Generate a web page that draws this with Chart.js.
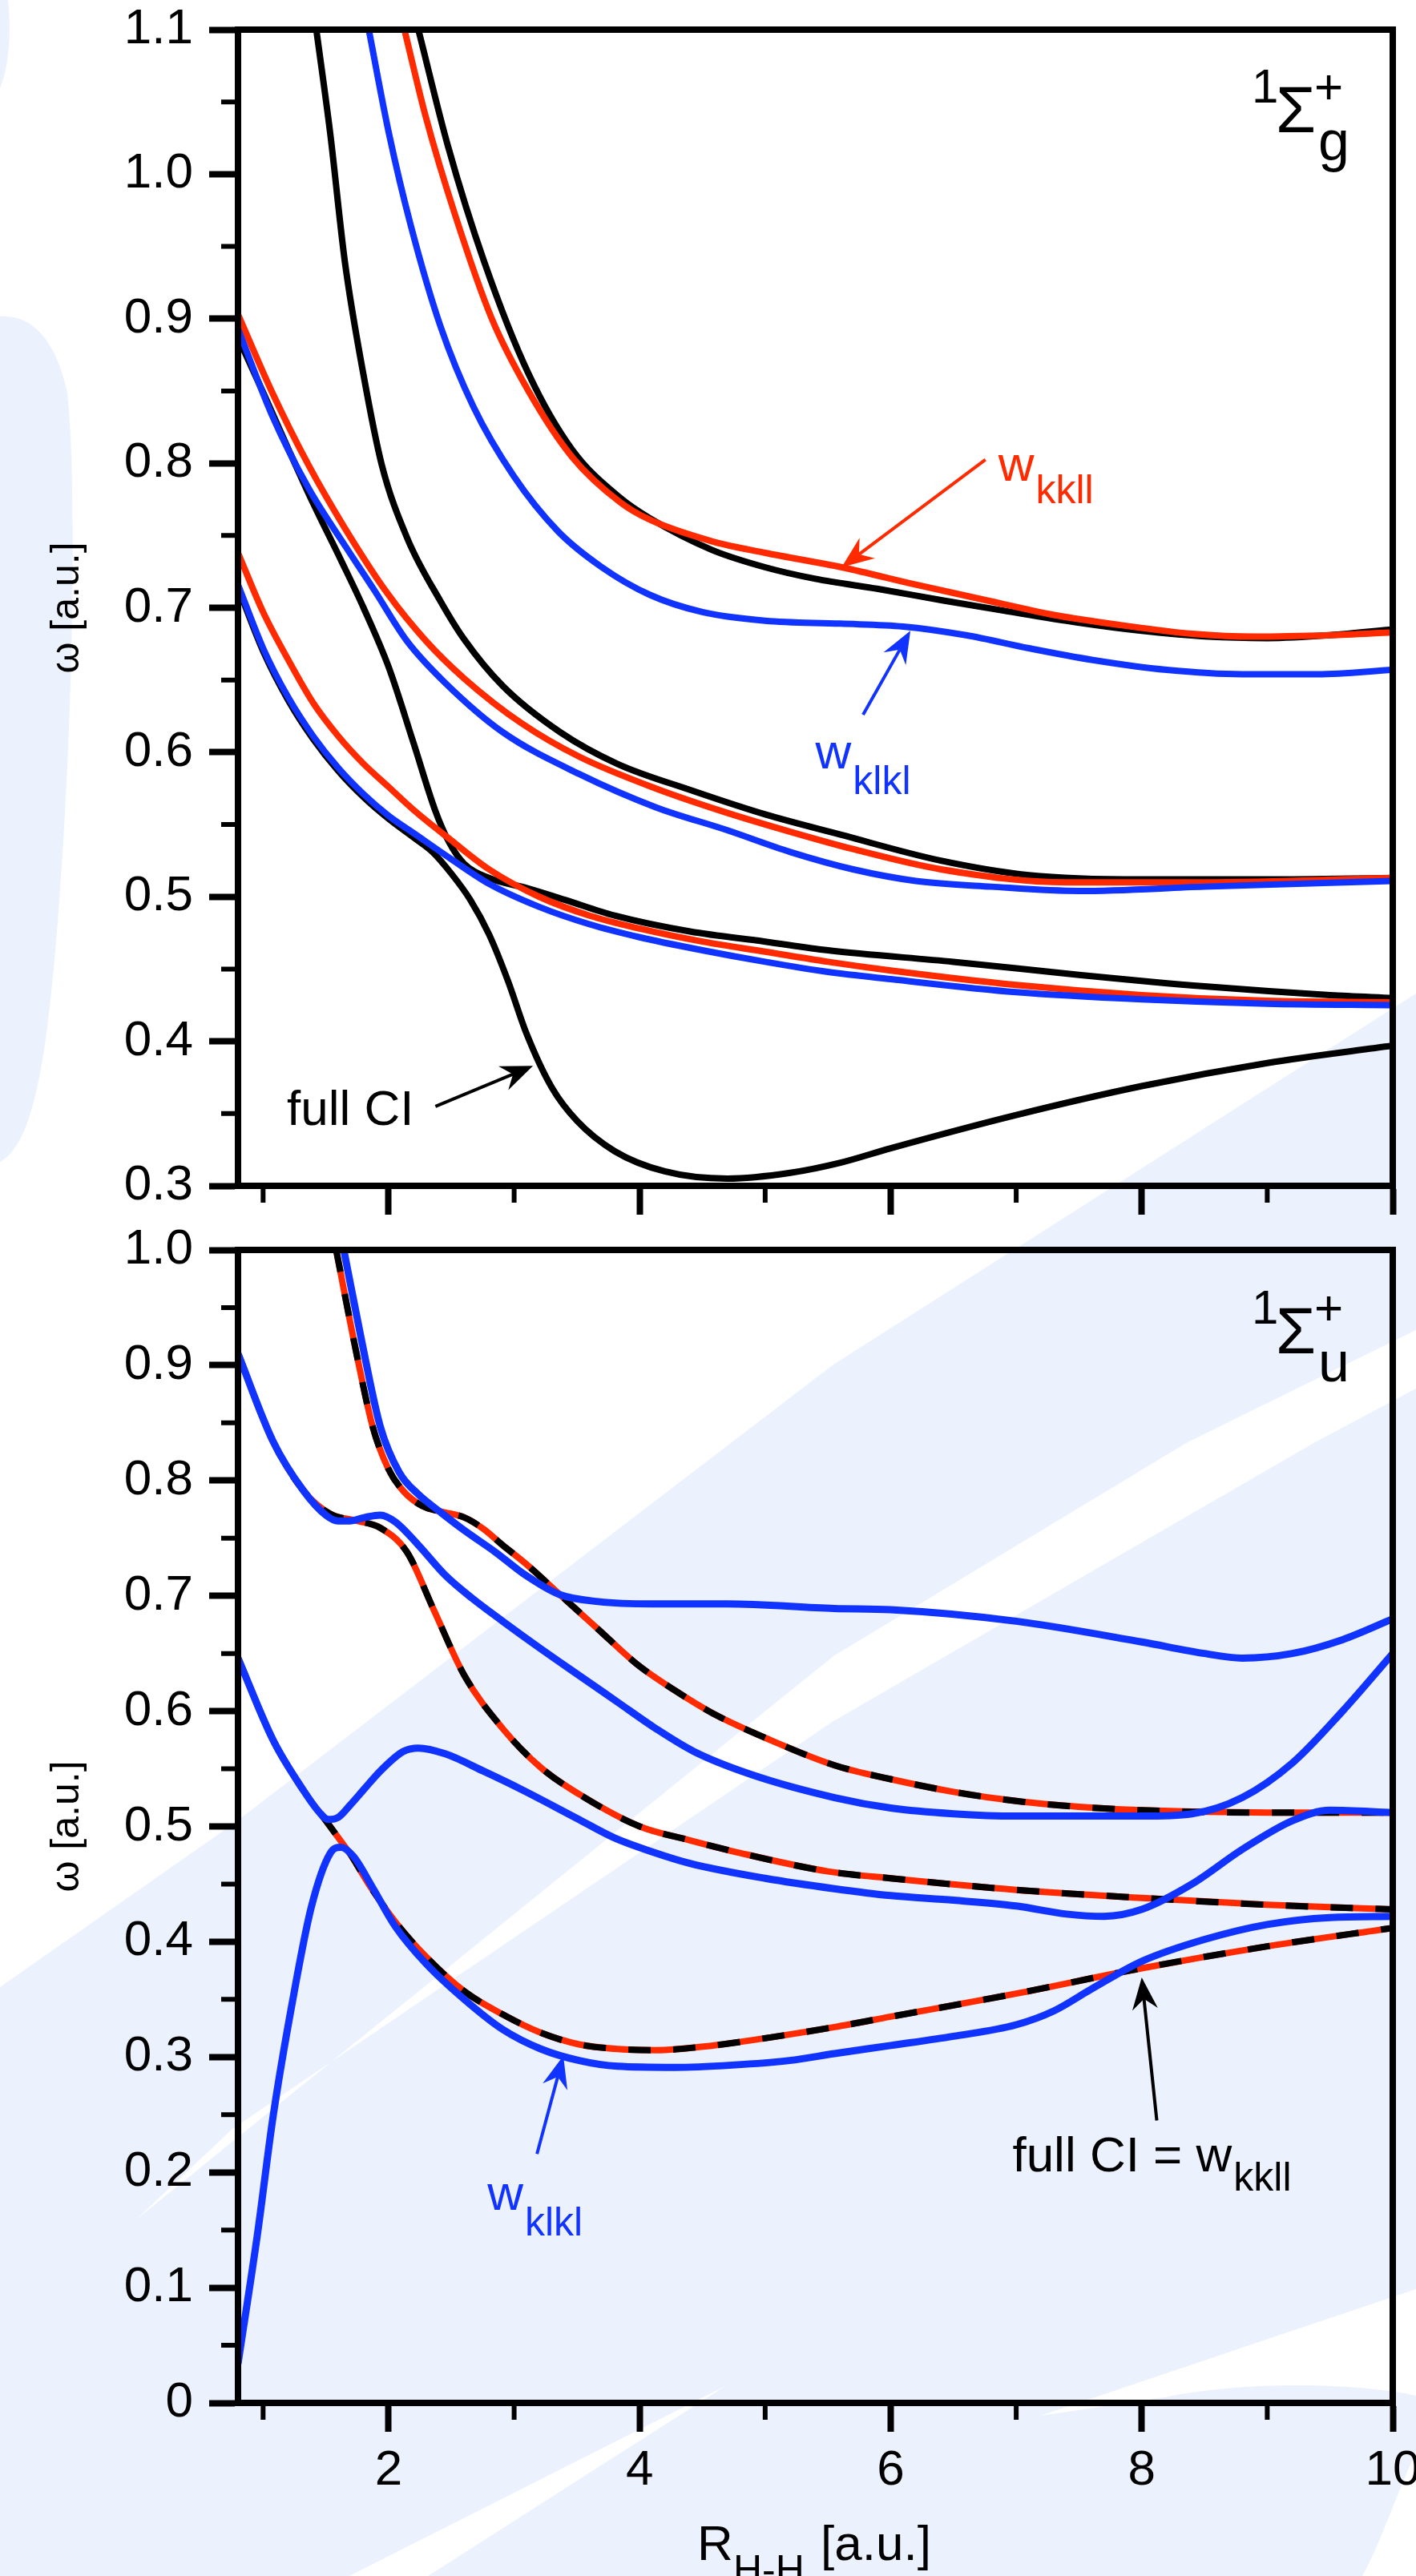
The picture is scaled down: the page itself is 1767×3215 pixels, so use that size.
<!DOCTYPE html>
<html><head><meta charset="utf-8">
<script src="https://cdn.jsdelivr.net/npm/chart.js@4.4.1/dist/chart.umd.min.js"></script>
<style>
html,body{margin:0;padding:0;background:#fff;}
#page{position:relative;width:1767px;height:3215px;overflow:hidden;background:#fff;}
#bg{position:absolute;left:0;top:0;}
#c1{position:absolute;left:0;top:0;}
#c2{position:absolute;left:0;top:1520px;}
</style></head><body>
<div id="page">
<svg id="bg" width="1767" height="3215" xmlns="http://www.w3.org/2000/svg">
  <g fill="#ecf2fd">
    <path d="M0,0 L10,0 C14,40 12,80 0,110 Z"/>
    <path d="M0,395 C40,392 70,425 84,490 C96,600 92,900 72,1150 C58,1330 40,1430 0,1450 Z"/>
    <path d="M0,2480 L290,2277 L1040,1703 L1359,1500 L1767,1240 L1767,3215 L0,3215 Z"/>
  </g>
  <g fill="#ffffff">
    <path d="M170,2770 L1040,2067 L1482,1800 L1767,1660 L1767,1733 L1641,1800 L1040,2148 L290,2657 Z"/>
    <path d="M436,3215 L534,3215 L905,2978 Z"/>
    <path d="M1298,3015 L1767,2857 L1767,2990 C1700,2975 1560,2970 1453,2992 Z"/>
    <path d="M1767,3060 C1740,3120 1720,3180 1700,3215 L1767,3215 Z"/>
  </g>
</svg>
<canvas id="c1" width="1767" height="1520"></canvas>
<canvas id="c2" width="1767" height="1695"></canvas>
</div>
<script>
// ---------------- data (R_H-H [a.u.], omega [a.u.]) ----------------
// top panel: 1Sigma_g+
const topFullCI_1 = [[0.8,0.714],[1.0,0.670],[1.2,0.636],[1.4,0.609],[1.6,0.587],[1.8,0.569],[2.0,0.554],[2.2,0.541],[2.35,0.531],[2.5,0.516],[2.65,0.498],[2.8,0.474],[2.95,0.442],[3.1,0.405],[3.3,0.368],[3.5,0.345],[3.8,0.324],[4.2,0.310],[4.7,0.305],[5.2,0.309],[5.6,0.316],[6.0,0.326],[7.0,0.349],[8.0,0.369],[9.0,0.385],[10,0.397]];
const topFullCI_2 = [[0.8,0.887],[1.0,0.849],[1.2,0.810],[1.4,0.772],[1.62,0.733],[1.8,0.700],[2.0,0.659],[2.2,0.606],[2.37,0.560],[2.48,0.538],[2.6,0.523],[2.8,0.513],[3.1,0.506],[3.4,0.498],[3.8,0.487],[4.4,0.476],[5.0,0.469],[5.5,0.463],[6.5,0.455],[7.5,0.446],[8.5,0.438],[9.5,0.432],[10,0.430]];
const topFullCI_3 = [[1.424,1.1],[1.535,1.028],[1.652,0.939],[1.798,0.862],[1.945,0.799],[2.149,0.748],[2.41,0.705],[2.603,0.678],[2.908,0.646],[3.365,0.614],[3.822,0.592],[4.4,0.574],[5.0,0.557],[5.6,0.543],[6.4,0.525],[7.1,0.515],[8.0,0.512],[9.0,0.512],[10,0.513]];
const topFullCI_4 = [[2.237,1.1],[2.471,1.020],[2.763,0.939],[3.114,0.862],[3.465,0.809],[3.845,0.776],[4.079,0.762],[4.576,0.740],[5.0,0.728],[5.4,0.720],[5.9,0.713],[6.42,0.705],[6.9,0.698],[7.47,0.690],[8.0,0.684],[8.53,0.680],[9.0,0.679],[9.5,0.681],[10,0.685]];
const topKkll_1 = [[0.8,0.738],[1.0,0.697],[1.2,0.664],[1.4,0.634],[1.6,0.611],[1.8,0.592],[2.0,0.576],[2.2,0.560],[2.5,0.539],[2.8,0.519],[3.2,0.500],[3.6,0.487],[4.0,0.478],[4.5,0.469],[5.0,0.462],[5.5,0.455],[6.0,0.449],[7.0,0.439],[8.0,0.432],[9.0,0.428],[10,0.427]];
const topKkll_2 = [[0.8,0.903],[1.067,0.850],[1.36,0.799],[1.652,0.755],[1.99,0.710],[2.298,0.677],[2.603,0.651],[3.06,0.620],[3.517,0.597],[4.127,0.575],[4.7,0.558],[5.2,0.545],[5.7,0.533],[6.4,0.519],[7.4,0.510],[8.5,0.510],[10,0.513]];
const topKkll_3 = [[2.126,1.1],[2.295,1.040],[2.529,0.972],[2.822,0.900],[3.114,0.850],[3.465,0.804],[3.845,0.773],[4.079,0.761],[4.576,0.746],[5.0,0.738],[5.61,0.728],[6.2,0.716],[6.77,0.705],[7.3,0.695],[7.83,0.688],[8.4,0.682],[8.9,0.680],[9.5,0.681],[10,0.683]];
const topKlkl_1 = [[0.8,0.716],[1.0,0.672],[1.2,0.638],[1.4,0.611],[1.6,0.589],[1.8,0.571],[2.0,0.556],[2.2,0.544],[2.5,0.526],[2.8,0.509],[3.2,0.493],[3.6,0.481],[4.0,0.472],[4.5,0.463],[5.0,0.455],[5.5,0.448],[6.0,0.443],[7.0,0.434],[8.0,0.429],[9.0,0.426],[10,0.425]];
const topKlkl_2 = [[0.8,0.893],[1.067,0.834],[1.36,0.783],[1.652,0.743],[1.887,0.712],[2.146,0.677],[2.451,0.648],[2.908,0.614],[3.517,0.585],[4.127,0.562],[4.7,0.546],[5.2,0.531],[5.7,0.519],[6.2,0.511],[6.8,0.507],[7.5,0.504],[8.5,0.507],[10,0.511]];
const topKlkl_3 = [[1.842,1.1],[2.003,1.028],[2.178,0.964],[2.412,0.895],[2.676,0.839],[2.997,0.791],[3.348,0.753],[3.699,0.728],[4.079,0.709],[4.5,0.697],[5.0,0.691],[5.6,0.689],[6.1,0.687],[6.6,0.681],[7.1,0.672],[7.6,0.664],[8.2,0.657],[8.8,0.654],[9.4,0.654],[10,0.657]];
// bottom panel: 1Sigma_u+  (full CI = w_kkll, drawn red/black dashed)
const botFullCI_1 = [[0.8,0.646],[1.079,0.575],[1.323,0.531],[1.506,0.504],[1.628,0.486],[1.689,0.477],[1.841,0.450],[2.055,0.417],[2.298,0.387],[2.603,0.357],[2.908,0.337],[3.213,0.321],[3.517,0.311],[3.822,0.307],[4.127,0.306],[4.584,0.310],[5.04,0.317],[5.553,0.326],[6.0,0.335],[7.0,0.355],[8.0,0.377],[9.0,0.396],[10,0.412]];
const botFullCI_2 = [[0.8,0.910],[1.079,0.834],[1.323,0.791],[1.536,0.771],[1.75,0.765],[1.933,0.759],[2.146,0.738],[2.359,0.688],[2.603,0.631],[2.908,0.585],[3.213,0.551],[3.517,0.528],[4.0,0.500],[4.4,0.488],[4.8,0.477],[5.5,0.461],[6.0,0.455],[7.0,0.445],[8.0,0.438],[9.0,0.432],[10,0.428]];
const botFullCI_3 = [[1.582,1.0],[1.75,0.907],[1.872,0.847],[1.994,0.811],[2.116,0.791],[2.268,0.778],[2.42,0.773],[2.603,0.768],[2.756,0.758],[2.908,0.744],[3.091,0.728],[3.365,0.701],[3.67,0.671],[3.975,0.641],[4.28,0.618],[4.584,0.598],[5.04,0.575],[5.553,0.553],[6.0,0.541],[6.5,0.530],[7.0,0.522],[7.5,0.517],[8.0,0.514],[9.0,0.512],[10,0.512]];
const botKlkl_1 = [[0.8,0.034],[0.957,0.148],[1.079,0.248],[1.232,0.347],[1.384,0.430],[1.536,0.477],[1.62,0.482],[1.72,0.474],[1.872,0.447],[2.055,0.413],[2.298,0.381],[2.603,0.350],[2.908,0.324],[3.213,0.307],[3.517,0.297],[3.822,0.292],[4.28,0.291],[4.737,0.293],[5.194,0.297],[5.553,0.303],[6.0,0.310],[6.5,0.318],[7.0,0.328],[7.3,0.340],[7.6,0.359],[8.0,0.383],[8.5,0.402],[9.0,0.415],[9.5,0.421],[10,0.422]];
const botKlkl_2 = [[0.8,0.646],[1.079,0.575],[1.323,0.531],[1.45,0.512],[1.52,0.506],[1.6,0.508],[1.689,0.518],[1.81,0.533],[1.933,0.548],[2.116,0.565],[2.237,0.568],[2.45,0.563],[2.755,0.548],[3.06,0.532],[3.5,0.507],[3.8,0.490],[4.1,0.478],[4.4,0.468],[5.0,0.455],[5.55,0.446],[6.0,0.440],[6.5,0.436],[7.0,0.431],[7.4,0.424],[7.7,0.422],[8.0,0.428],[8.4,0.450],[8.8,0.480],[9.2,0.505],[9.5,0.514],[10,0.512]];
const botKlkl_3 = [[0.8,0.910],[1.079,0.834],[1.323,0.791],[1.5,0.770],[1.597,0.765],[1.689,0.765],[1.81,0.768],[1.933,0.770],[2.055,0.764],[2.237,0.744],[2.45,0.718],[2.664,0.698],[2.908,0.678],[3.213,0.654],[3.517,0.631],[3.822,0.608],[4.127,0.585],[4.432,0.565],[4.89,0.545],[5.553,0.525],[6.0,0.516],[6.5,0.511],[7.0,0.509],[7.5,0.509],[8.0,0.509],[8.4,0.511],[8.8,0.525],[9.2,0.555],[9.6,0.600],[10,0.650]];
const botKlkl_4 = [[1.643,1.0],[1.78,0.924],[1.933,0.847],[2.085,0.807],[2.237,0.788],[2.42,0.772],[2.6,0.757],[2.85,0.738],[3.09,0.718],[3.365,0.701],[3.67,0.695],[4.1,0.693],[4.7,0.693],[5.55,0.689],[6.0,0.688],[7.0,0.678],[8.0,0.660],[8.5,0.650],[8.8,0.646],[9.2,0.650],[9.6,0.662],[10,0.680]];

// ticks
const xTicks = [2,4,6,8,10];
const xTickLabels = ['2','4','6','8','10'];
const xMinorTicks = [1,3,5,7,9];
const topYTicks = [0.3,0.4,0.5,0.6,0.7,0.8,0.9,1.0,1.1];
const topYTickLabels = ['0.3','0.4','0.5','0.6','0.7','0.8','0.9','1.0','1.1'];
const topYMinor = [0.35,0.45,0.55,0.65,0.75,0.85,0.95,1.05];
const botYTicks = [0,0.1,0.2,0.3,0.4,0.5,0.6,0.7,0.8,0.9,1.0];
const botYTickLabels = ['0','0.1','0.2','0.3','0.4','0.5','0.6','0.7','0.8','0.9','1.0'];
const botYMinor = [0.05,0.15,0.25,0.35,0.45,0.55,0.65,0.75,0.85,0.95];

// ---------------- style ----------------
const FONT = '"Liberation Sans", Arial, Helvetica, sans-serif';
const RED = '#ff2a00', BLUE = '#1133ff', BLACK = '#000000';
const W = 1767;

function pts(a){ return a.map(p => ({x:p[0], y:p[1]})); }
function ds(a, color, width, dash){
  return { data: pts(a), borderColor: color, borderWidth: width, borderDash: dash || [],
    pointRadius: 0, fill: false, cubicInterpolationMode: 'monotone', borderCapStyle: 'butt', borderJoinStyle: 'round' };
}

function arrow(ctx, x1, y1, x2, y2, color){
  const a = Math.atan2(y2-y1, x2-x1), c = Math.cos(a), s = Math.sin(a);
  const L = 40, Wd = 16, N = 27;
  ctx.save();
  ctx.strokeStyle = color; ctx.fillStyle = color; ctx.lineWidth = 4;
  ctx.beginPath(); ctx.moveTo(x1, y1); ctx.lineTo(x2 - N*c, y2 - N*s); ctx.stroke();
  const bx = x2 - L*c, by = y2 - L*s;
  ctx.beginPath();
  ctx.moveTo(x2, y2);
  ctx.lineTo(bx - Wd*s, by + Wd*c);
  ctx.lineTo(x2 - N*c, y2 - N*s);
  ctx.lineTo(bx + Wd*s, by - Wd*c);
  ctx.closePath(); ctx.fill();
  ctx.restore();
}
function subText(ctx, x, y, main, sub, color, mSize, sSize, dy){
  ctx.save();
  ctx.fillStyle = color; ctx.textAlign = 'left'; ctx.textBaseline = 'alphabetic';
  ctx.font = mSize + 'px ' + FONT;
  ctx.fillText(main, x, y);
  const w = ctx.measureText(main).width;
  ctx.font = sSize + 'px ' + FONT;
  ctx.fillText(sub, x + w + 2, y + dy);
  ctx.restore();
}
function sigmaLabel(ctx, x, yBase, sub){
  ctx.save(); ctx.fillStyle = '#000'; ctx.textBaseline = 'alphabetic'; ctx.textAlign = 'left';
  ctx.font = '60px ' + FONT; ctx.fillText('1', x, yBase);
  ctx.font = '81px ' + FONT; ctx.fillText('\u03A3', x + 30, yBase + 37);
  ctx.font = '62px ' + FONT; ctx.fillText('+', x + 78, yBase + 1);
  ctx.font = '70px ' + FONT; ctx.fillText(sub, x + 83, yBase + 72);
  ctx.restore();
}
function yTitle(ctx, area){
  ctx.save(); ctx.fillStyle = '#000';
  ctx.translate(84, (area.top + area.bottom) / 2);
  ctx.rotate(-Math.PI/2);
  ctx.font = '50px ' + FONT; ctx.textAlign = 'center'; ctx.textBaseline = 'middle';
  ctx.fillText('\u03C9 [a.u.]', 0, 0);
  ctx.restore();
}
function frameAndMinor(chart, yMinor){
  const ctx = chart.ctx, a = chart.chartArea, xs = chart.scales.x, ys = chart.scales.y;
  ctx.save();
  ctx.strokeStyle = '#000'; ctx.lineWidth = 8;
  ctx.strokeRect(a.left, a.top, a.right - a.left, a.bottom - a.top);
  ctx.lineWidth = 6;
  ctx.beginPath();
  xMinorTicks.forEach(v => { const px = xs.getPixelForValue(v); ctx.moveTo(px, a.bottom); ctx.lineTo(px, a.bottom + 21); });
  yMinor.forEach(v => { const py = ys.getPixelForValue(v); ctx.moveTo(a.left, py); ctx.lineTo(a.left - 21, py); });
  ctx.stroke();
  ctx.restore();
}

function scalesCfg(yMin, yMax, yT, yL, showX, xHeight){
  return {
    x: { type: 'linear', min: 0.8, max: 10,
      afterBuildTicks: s => { s.ticks = xTicks.map(v => ({value: v})); },
      afterFit: s => { s.height = xHeight; s.paddingLeft = 0; s.paddingRight = 0; },
      ticks: { autoSkip: false, maxRotation: 0, padding: 12, color: '#000', font: {family: FONT, size: 62},
        callback: (v, i) => showX ? xTickLabels[i] : '' },
      grid: { display: true, drawOnChartArea: false, drawTicks: true, tickLength: 36, tickWidth: 8, tickColor: '#000' },
      border: { display: true, width: 8, color: '#000' }
    },
    y: { type: 'linear', min: yMin, max: yMax,
      afterBuildTicks: s => { s.ticks = yT.map(v => ({value: v})); },
      afterFit: s => { s.width = 297; s.paddingTop = 0; s.paddingBottom = 0; },
      ticks: { autoSkip: false, padding: 20, color: '#000', font: {family: FONT, size: 62},
        callback: (v, i) => yL[i] },
      grid: { display: true, drawOnChartArea: false, drawTicks: true, tickLength: 36, tickWidth: 8, tickColor: '#000' },
      border: { display: true, width: 8, color: '#000' }
    }
  };
}

// ---------------- top chart ----------------
const topPlugin = { id: 'topDecor', afterDraw(chart){
  const ctx = chart.ctx, xs = chart.scales.x, ys = chart.scales.y;
  frameAndMinor(chart, topYMinor);
  const P = (r, w) => [xs.getPixelForValue(r), ys.getPixelForValue(w)];
  let t = P(6.857, 0.788); subText(ctx, t[0], t[1], 'w', 'kkll', RED, 62, 50, 28);
  let a1 = P(6.755, 0.8025), a2 = P(5.609, 0.728); arrow(ctx, a1[0], a1[1], a2[0], a2[1], RED);
  t = P(5.40, 0.589); subText(ctx, t[0], t[1], 'w', 'klkl', BLUE, 62, 50, 32);
  a1 = P(5.78, 0.626); a2 = P(6.157, 0.684); arrow(ctx, a1[0], a1[1], a2[0], a2[1], BLUE);
  t = P(1.189, 0.342);
  ctx.save(); ctx.fillStyle = '#000'; ctx.font = '62px ' + FONT; ctx.textAlign = 'left'; ctx.fillText('full CI', t[0], t[1]); ctx.restore();
  a1 = P(2.373, 0.355); a2 = P(3.15, 0.383); arrow(ctx, a1[0], a1[1], a2[0], a2[1], '#000');
  sigmaLabel(ctx, 1562, 128, 'g');
  yTitle(ctx, chart.chartArea);
}};

new Chart(document.getElementById('c1'), {
  type: 'line',
  data: { datasets: [
    ds(topKlkl_1, BLUE, 8), ds(topKlkl_2, BLUE, 8), ds(topKlkl_3, BLUE, 8),
    ds(topKkll_1, RED, 8), ds(topKkll_2, RED, 8), ds(topKkll_3, RED, 8),
    ds(topFullCI_1, BLACK, 8), ds(topFullCI_2, BLACK, 8), ds(topFullCI_3, BLACK, 8), ds(topFullCI_4, BLACK, 8)
  ]},
  options: {
    responsive: false, animation: false, devicePixelRatio: 1,
    layout: { padding: { left: 0, right: W - 1738, top: 37, bottom: 0 } },
    plugins: { legend: {display: false}, tooltip: {enabled: false}, title: {display: false} },
    scales: scalesCfg(0.3, 1.1, topYTicks, topYTickLabels, false, 40)
  },
  plugins: [topPlugin]
});

// ---------------- bottom chart ----------------
const botPlugin = { id: 'botDecor', afterDraw(chart){
  const ctx = chart.ctx, xs = chart.scales.x, ys = chart.scales.y;
  frameAndMinor(chart, botYMinor);
  const P = (r, w) => [xs.getPixelForValue(r), ys.getPixelForValue(w)];
  let t = P(2.787, 0.1675); subText(ctx, t[0], t[1], 'w', 'klkl', BLUE, 62, 50, 32);
  let a1 = P(3.182, 0.216), a2 = P(3.392, 0.301); arrow(ctx, a1[0], a1[1], a2[0], a2[1], BLUE);
  t = P(6.97, 0.2008); subText(ctx, t[0], t[1], 'full CI = w', 'kkll', '#000', 62, 50, 24);
  a1 = P(8.12, 0.245); a2 = P(8.0, 0.369); arrow(ctx, a1[0], a1[1], a2[0], a2[1], '#000');
  sigmaLabel(ctx, 1562, 132, 'u');
  yTitle(ctx, chart.chartArea);
  ctx.save(); ctx.fillStyle = '#000'; ctx.textAlign = 'left'; ctx.textBaseline = 'alphabetic';
  const base = 3195 - 1520;
  ctx.font = '62px ' + FONT; ctx.fillText('R', 870, base);
  ctx.font = '50px ' + FONT; ctx.fillText('H-H', 915, base + 29);
  ctx.font = '62px ' + FONT; ctx.fillText('[a.u.]', 1024, base);
  ctx.restore();
}};

new Chart(document.getElementById('c2'), {
  type: 'line',
  data: { datasets: [
    ds(botKlkl_1, BLUE, 9), ds(botKlkl_2, BLUE, 9), ds(botKlkl_3, BLUE, 9), ds(botKlkl_4, BLUE, 9),
    ds(botFullCI_1, BLACK, 8, [28, 28]), ds(botFullCI_2, BLACK, 8, [28, 28]), ds(botFullCI_3, BLACK, 8, [28, 28]),
    ds(botFullCI_1, RED, 8), ds(botFullCI_2, RED, 8), ds(botFullCI_3, RED, 8)
  ]},
  options: {
    responsive: false, animation: false, devicePixelRatio: 1,
    layout: { padding: { left: 0, right: W - 1738, top: 40, bottom: 0 } },
    plugins: { legend: {display: false}, tooltip: {enabled: false}, title: {display: false} },
    scales: scalesCfg(0, 1.0, botYTicks, botYTickLabels, true, 1695 - 1479)
  },
  plugins: [botPlugin]
});
</script>
</body></html>
